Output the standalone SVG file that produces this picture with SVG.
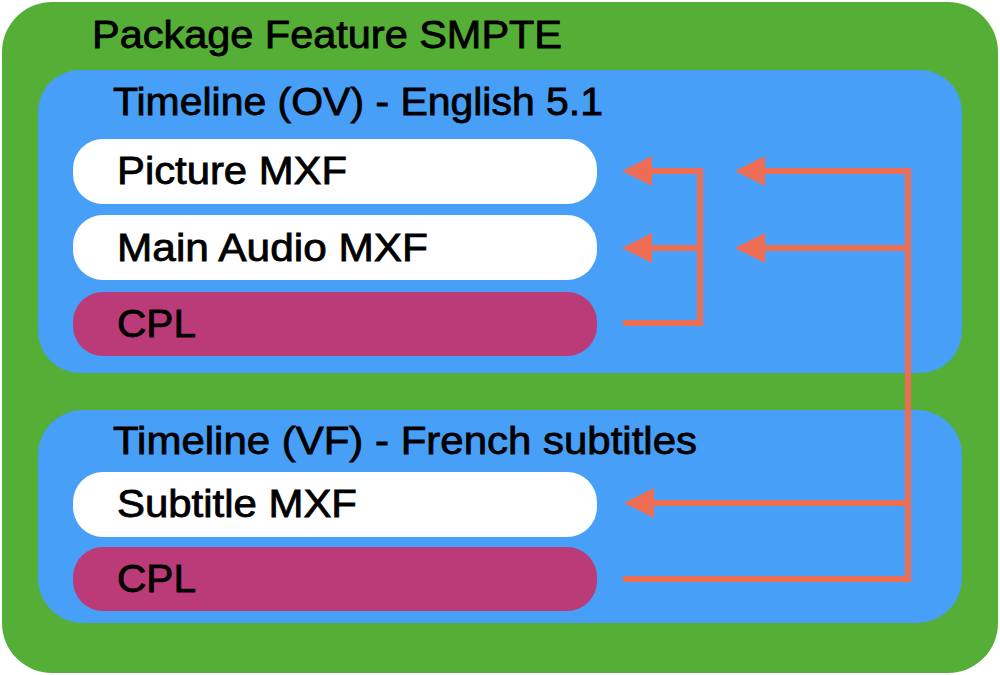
<svg xmlns="http://www.w3.org/2000/svg" width="1000" height="675" viewBox="0 0 1000 675">
<defs>
<style>
.pkg{fill:#55AE35}
.tl{fill:#479FF8}
.file{fill:#FFFFFF}
.cpl{fill:#BA3B78}
text{font-family:"Liberation Sans",Arial,sans-serif;font-size:38px;fill:#000;stroke:#000;stroke-width:0.8}
.conn{fill:none;stroke:#EC6D53;stroke-width:6}
.head{fill:#EC6D53}
</style>
</defs>
<g id="package">
<rect class="pkg" x="2" y="2" width="996" height="671" rx="50"/>
<text x="92" y="48" textLength="470" lengthAdjust="spacingAndGlyphs">Package Feature SMPTE</text>
</g>
<g id="timeline-ov">
<rect class="tl" x="38" y="70" width="924" height="303" rx="42"/>
<text x="113" y="115" textLength="490" lengthAdjust="spacingAndGlyphs">Timeline (OV) - English 5.1</text>
</g>
<g id="picture-mxf">
<rect class="file" x="73" y="139" width="524" height="65" rx="30"/>
<text x="117" y="184" textLength="230" lengthAdjust="spacingAndGlyphs">Picture MXF</text>
</g>
<g id="main-audio-mxf">
<rect class="file" x="73" y="215" width="524" height="65" rx="30"/>
<text x="117" y="261" textLength="311" lengthAdjust="spacingAndGlyphs">Main Audio MXF</text>
</g>
<g id="cpl-ov">
<rect class="cpl" x="73" y="292" width="524" height="64" rx="30"/>
<text x="117" y="337" textLength="79" lengthAdjust="spacingAndGlyphs">CPL</text>
</g>
<g id="timeline-vf">
<rect class="tl" x="38" y="410" width="924" height="213" rx="45"/>
<text x="113" y="454" textLength="584" lengthAdjust="spacingAndGlyphs">Timeline (VF) - French subtitles</text>
</g>
<g id="subtitle-mxf">
<rect class="file" x="73" y="472" width="524" height="65" rx="30"/>
<text x="117" y="517" textLength="240" lengthAdjust="spacingAndGlyphs">Subtitle MXF</text>
</g>
<g id="cpl-vf">
<rect class="cpl" x="73" y="547" width="524" height="64" rx="30"/>
<text x="117" y="592" textLength="79" lengthAdjust="spacingAndGlyphs">CPL</text>
</g>
<g id="connectors">
<polyline class="conn" points="623,323 700,323 700,171 650,171"/>
<polyline class="conn" points="700,248 650,248"/>
<polyline class="conn" points="623,579 908,579 908,171 763,171"/>
<polyline class="conn" points="908,248 763,248"/>
<polyline class="conn" points="908,503 651,503"/>
<polygon class="head" points="622,171 652,156 652,186"/>
<polygon class="head" points="622,248 652,233 652,263"/>
<polygon class="head" points="735,171 765,156 765,186"/>
<polygon class="head" points="735,248 765,233 765,263"/>
<polygon class="head" points="624,503 654,488 654,518"/>
</g>
</svg>
